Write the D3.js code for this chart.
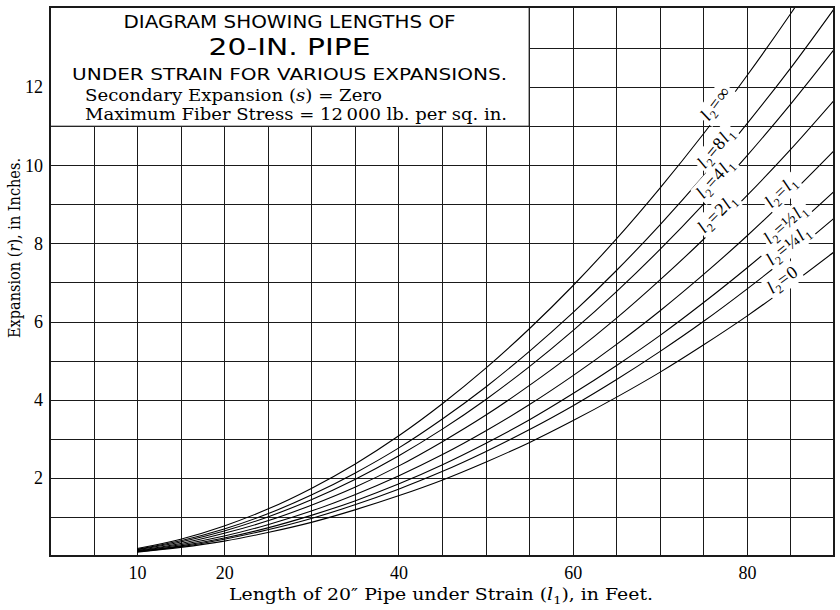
<!DOCTYPE html>
<html>
<head>
<meta charset="UTF-8">
<title>20-in pipe expansion diagram</title>

<style type="text/css">
	body { margin: 0; background: #fff; }

	.grid line { stroke: #1a1a1a; stroke-width: 1; shape-rendering: crispEdges; }
	.grid path { display: none; }

	.ticks path, .ticks line { display: none; }
	.ticks text {
		font-family: "Liberation Serif", serif;
		font-size: 18px;
		fill: #000;
	}

	.curve { fill: none; stroke: #000; stroke-width: 1.1; }

	.serif { font-family: "Liberation Serif", serif; fill: #000; }
	.wide { font-family: "DejaVu Serif", serif; fill: #000; }
	.sans { font-family: "DejaVu Sans", sans-serif; fill: #000; }
</style>

<script type="text/javascript" src="https://d3js.org/d3.v7.min.js"></script>
</head>
<body>

<div id="div_main"></div>

<script type="text/javascript">

	// length of pipe under strain l1 (feet) at which the curves were read
	var lengths = [10, 15, 20, 25, 30, 35, 40, 45, 50, 55, 60, 65, 70, 75, 80, 85, 90];

	// expansion r (inches), one list per curve
	var r_0       = [0.10, 0.22, 0.38, 0.60, 0.86, 1.18, 1.54, 1.94, 2.40, 2.90, 3.46, 4.06, 4.70, 5.40, 6.14, 6.94, 7.78];
	var r_quarter = [0.11, 0.24, 0.43, 0.67, 0.96, 1.31, 1.71, 2.16, 2.67, 3.23, 3.84, 4.51, 5.23, 6.00, 6.83, 7.71, 8.64];
	var r_half    = [0.12, 0.26, 0.46, 0.72, 1.04, 1.41, 1.84, 2.33, 2.88, 3.48, 4.15, 4.87, 5.64, 6.48, 7.37, 8.32, 9.33];
	var r_1       = [0.13, 0.29, 0.51, 0.80, 1.15, 1.57, 2.05, 2.59, 3.20, 3.87, 4.61, 5.41, 6.27, 7.20, 8.19, 9.25, 10.37];
	var r_2       = [0.14, 0.32, 0.58, 0.90, 1.30, 1.76, 2.30, 2.92, 3.60, 4.36, 5.18, 6.08, 7.06, 8.10, 9.22, 10.40, 11.66];
	var r_4       = [0.16, 0.36, 0.64, 1.00, 1.44, 1.96, 2.56, 3.24, 4.00, 4.84, 5.76, 6.76, 7.84, 9.00, 10.24, 11.56, 12.96];
	var r_8       = [0.17, 0.39, 0.69, 1.08, 1.56, 2.12, 2.76, 3.50, 4.32, 5.23, 6.22, 7.30, 8.47, 9.72, 11.06, 12.48, 14.00];
	var r_inf     = [0.19, 0.43, 0.77, 1.20, 1.73, 2.35, 3.07, 3.89, 4.80, 5.81, 6.91, 8.11, 9.41, 10.80, 12.29, 13.87, 15.55];

	// curve labels  l2 = coef * l1
	var labelCoef = ["0", "\u00bc", "\u00bd", "", "2", "4", "8", "\u221e"];
	var labelHasL1 = [false, true, true, true, true, true, true, false];
	var labelAt = [84.7, 85.4, 85.1, 84.6, 77.3, 77.1, 77.2, 77.2];

	var xTicks = [10, 20, 40, 60, 80];
	var yTicks = [2, 4, 6, 8, 10, 12];

	function draw(svg_w, svg_h, id_svg_main) {

		var left = 50, right = 834, top = 7, bottom = 556;

		var x = d3.scaleLinear().domain([0, 90]).range([left, right]);
		var y = d3.scaleLinear().domain([0, 14.05]).range([bottom, top]);

		var svg = d3.select(id_svg_main)
			.append("svg")
				.attr("width", svg_w)
				.attr("height", svg_h);

		svg.append("rect")
			.attr("width", svg_w).attr("height", svg_h)
			.attr("fill", "#fff");

		// grid
		svg.append("g")
			.attr("class", "grid")
			.attr("transform", "translate(0," + bottom + ")")
			.call(d3.axisBottom(x).tickValues(d3.range(5, 90, 5)).tickSize(-(bottom - top)).tickFormat(""));

		svg.append("g")
			.attr("class", "grid")
			.attr("transform", "translate(" + left + ",0)")
			.call(d3.axisLeft(y).tickValues(d3.range(1, 14, 1)).tickSize(-(right - left)).tickFormat(""));

		// curves
		svg.append("clipPath").attr("id", "plotclip")
			.append("rect")
				.attr("x", left).attr("y", top)
				.attr("width", right - left).attr("height", bottom - top);

		var series = [r_0, r_quarter, r_half, r_1, r_2, r_4, r_8, r_inf];

		var line = d3.line()
			.x(function (d, i) { return x(lengths[i]); })
			.y(function (d) { return y(d); })
			.curve(d3.curveMonotoneX);

		svg.append("g")
			.attr("clip-path", "url(#plotclip)")
			.selectAll("path")
			.data(series)
			.enter()
			.append("path")
				.attr("class", "curve")
				.attr("d", line);

		// curve labels, set on the curve with a white ground
		series.forEach(function (vals, i) {
			var at = labelAt[i];
			var f = d3.scaleLinear().domain(lengths).range(vals);
			var px = x(at), py = y(f(at));
			var dx = x(at + 1) - x(at - 1);
			var dy = y(f(at + 1)) - y(f(at - 1));
			var ang = Math.atan2(dy, dx) * 180 / Math.PI;

			var g = svg.append("g")
				.attr("transform", "translate(" + px + "," + py + ") rotate(" + ang + ")");

			var t = g.append("text")
				.attr("class", "serif")
				.attr("text-anchor", "middle")
				.attr("y", -3)
				.style("font-size", "18px")
				.style("letter-spacing", "1px");

			t.append("tspan").style("font-style", "italic").text("l");
			t.append("tspan").attr("dy", 4).style("font-size", "12px").text("2");
			t.append("tspan").attr("dy", -4).text("=" + labelCoef[i]);
			if (labelHasL1[i]) {
				t.append("tspan").style("font-style", "italic").text("l");
				t.append("tspan").attr("dy", 4).style("font-size", "12px").text("1");
			}

			var bb = t.node().getBBox();
			g.insert("rect", "text")
				.attr("x", bb.x - 2).attr("y", bb.y)
				.attr("width", bb.width + 4).attr("height", bb.height - 1)
				.attr("fill", "#fff");
		});

		// title box
		svg.append("rect")
			.attr("x", x(0)).attr("y", y(14.05))
			.attr("width", x(55) - x(0)).attr("height", y(11) - y(14.05))
			.attr("fill", "#fff")
			.attr("stroke", "#1a1a1a")
			.attr("stroke-width", 1);

		var cx = (x(0) + x(55)) / 2;

		svg.append("text").attr("class", "sans")
			.attr("x", cx).attr("y", 28)
			.attr("text-anchor", "middle")
			.attr("textLength", 332).attr("lengthAdjust", "spacingAndGlyphs")
			.style("font-size", "17.5px")
			.text("DIAGRAM SHOWING LENGTHS OF");

		svg.append("text").attr("class", "sans")
			.attr("x", cx).attr("y", 55)
			.attr("text-anchor", "middle")
			.attr("textLength", 162).attr("lengthAdjust", "spacingAndGlyphs")
			.style("font-size", "23.5px")
			.text("20-IN. PIPE");

		svg.append("text").attr("class", "sans")
			.attr("x", cx).attr("y", 80)
			.attr("text-anchor", "middle")
			.attr("textLength", 435).attr("lengthAdjust", "spacingAndGlyphs")
			.style("font-size", "16.5px")
			.text("UNDER STRAIN FOR VARIOUS EXPANSIONS.");

		var s1 = svg.append("text").attr("class", "wide")
			.attr("x", 85).attr("y", 101)
			.attr("textLength", 297).attr("lengthAdjust", "spacingAndGlyphs")
			.style("font-size", "16px");
		s1.append("tspan").text("Secondary Expansion (");
		s1.append("tspan").style("font-style", "italic").text("s");
		s1.append("tspan").text(") = Zero");

		svg.append("text").attr("class", "wide")
			.attr("x", 85).attr("y", 120)
			.attr("textLength", 422).attr("lengthAdjust", "spacingAndGlyphs")
			.style("font-size", "16px")
			.text("Maximum Fiber Stress = 12\u2009000 lb. per sq. in.");

		// frame
		svg.append("rect")
			.attr("x", left).attr("y", top)
			.attr("width", right - left).attr("height", bottom - top)
			.attr("fill", "none")
			.attr("stroke", "#1a1a1a")
			.attr("stroke-width", 2);

		// tick labels
		svg.append("g")
			.attr("class", "ticks")
			.attr("transform", "translate(0," + bottom + ")")
			.call(d3.axisBottom(x).tickValues(xTicks).tickSize(0).tickPadding(10));

		svg.append("g")
			.attr("class", "ticks")
			.attr("transform", "translate(" + left + ",0)")
			.call(d3.axisLeft(y).tickValues(yTicks).tickSize(0).tickPadding(7));

		// axis titles
		var xt = svg.append("text").attr("class", "wide")
			.attr("x", 441).attr("y", 600)
			.attr("text-anchor", "middle")
			.attr("textLength", 424).attr("lengthAdjust", "spacingAndGlyphs")
			.style("font-size", "16px");
		xt.append("tspan").text("Length of 20\u2033 Pipe under Strain (");
		xt.append("tspan").style("font-style", "italic").text("l");
		xt.append("tspan").attr("dy", 4).style("font-size", "11px").text("1");
		xt.append("tspan").attr("dy", -4).text("), in Feet.");

		var yt = svg.append("text").attr("class", "wide")
			.attr("transform", "translate(20,248) rotate(-90)")
			.attr("text-anchor", "middle")
			.attr("textLength", 180).attr("lengthAdjust", "spacingAndGlyphs")
			.style("font-size", "16px");
		yt.append("tspan").text("Expansion (");
		yt.append("tspan").style("font-style", "italic").text("r");
		yt.append("tspan").text("), in Inches.");
	}

	draw(840, 610, "#div_main");

</script>

</body>
</html>
